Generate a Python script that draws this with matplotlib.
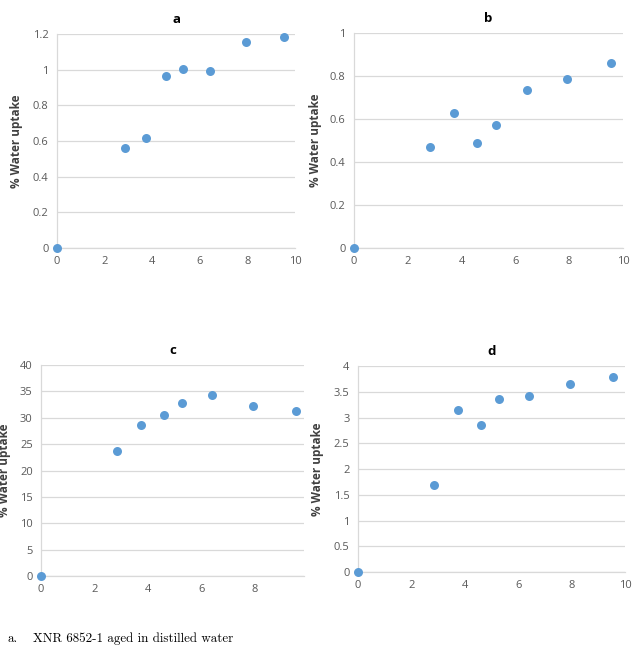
import matplotlib.pyplot as plt

# ── Data ───────────────────────────────────────────────────────────────────────
x_vals = [0, 2.84, 3.73, 4.59, 5.29, 6.42, 7.93, 9.54]

uptake_a = [0, 0.558, 0.618, 0.964, 1.003, 0.992, 1.153, 1.183]
uptake_b = [0, 0.470, 0.627, 0.488, 0.573, 0.733, 0.787, 0.860]
uptake_c = [0, 23.7, 28.7, 30.5, 32.8, 34.4, 32.2, 31.3]
uptake_d = [0, 1.68, 3.14, 2.85, 3.35, 3.42, 3.66, 3.79]

titles = ['a', 'b', 'c', 'd']
ylims = [(0, 1.2), (0, 1), (0, 40), (0, 4)]
yticks = [[0, 0.2, 0.4, 0.6, 0.8, 1, 1.2],
          [0, 0.2, 0.4, 0.6, 0.8, 1],
          [0, 5, 10, 15, 20, 25, 30, 35, 40],
          [0, 0.5, 1, 1.5, 2, 2.5, 3, 3.5, 4]]
ylabel = '% Water uptake'
caption = 'XNR 6852-1 aged in distilled water'

# ── Style ──────────────────────────────────────────────────────────────────────
plt.rcParams['font.family'] = ['Open Sans', 'DejaVu Sans']
dot_color = '#5B9BD5'
grid_color = '#D9D9D9'
tick_color = '#595959'

fig = plt.figure(figsize=(6.37, 6.47), dpi=100)

# axes boxes in figure fractions (left, bottom, width, height)
boxes = [
    (0.0895, 0.6167, 0.3736, 0.3308),
    (0.5557, 0.6167, 0.4223, 0.3323),
    (0.0644, 0.1097, 0.4129, 0.3261),
    (0.5620, 0.1159, 0.4192, 0.3184),
]
xlims = [(0, 10), (0, 10), (0, 9.85), (0, 10)]
xticks = [[0, 2, 4, 6, 8, 10], [0, 2, 4, 6, 8, 10], [0, 2, 4, 6, 8], [0, 2, 4, 6, 8, 10]]
ylabel_x = [17, 315, 5, 318]
series = [uptake_a, uptake_b, uptake_c, uptake_d]

for i, ys in enumerate(series):
    ax = fig.add_axes(boxes[i])
    ax.scatter(x_vals, ys, s=42, color=dot_color, zorder=3, clip_on=False, linewidths=0)
    ax.set_xlim(*xlims[i])
    ax.set_ylim(*ylims[i])
    ax.set_xticks(xticks[i])
    ax.set_yticks(yticks[i])
    ax.set_yticklabels([f'{t:g}' for t in yticks[i]])
    ax.grid(axis='y', color=grid_color, linewidth=0.9)
    ax.set_axisbelow(True)
    for side in ['top', 'right']:
        ax.spines[side].set_visible(False)
    for side in ['left', 'bottom']:
        ax.spines[side].set_color(grid_color)
        ax.spines[side].set_linewidth(0.9)
    ax.tick_params(length=0, labelsize=8, labelcolor=tick_color, pad=6)
    ax.set_title(titles[i], fontsize=9.5, fontweight='bold', pad=8)
    # y label placed at a fixed pixel column
    bx = ylabel_x[i] / 637
    by = boxes[i][1] + boxes[i][3] / 2
    fig.text(bx, by, ylabel, rotation=90, ha='center', va='center',
             fontsize=8.5, fontweight='bold', color='#404040')

fig.text(7 / 637, 1 - 639 / 647, 'a.', family='cmr10', fontsize=9.4, va='center')
fig.text(33 / 637, 1 - 639 / 647, caption, family='cmr10', fontsize=9.4, va='center')

fig.savefig('out.png', dpi=100)
